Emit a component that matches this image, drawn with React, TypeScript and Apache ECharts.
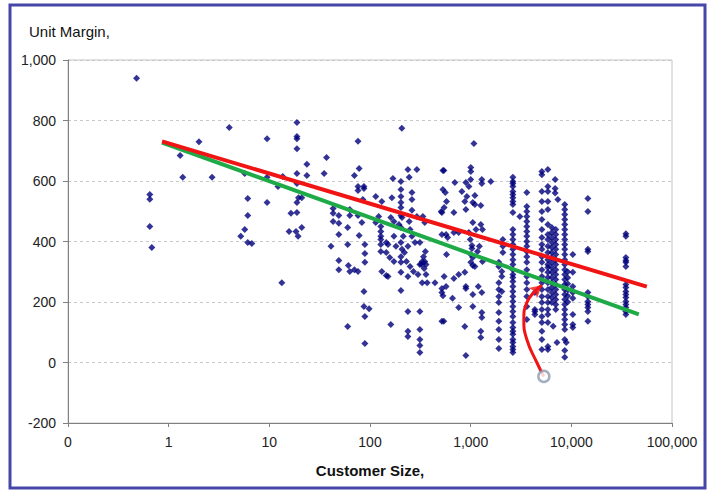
import React, { useEffect, useRef } from "react";
import * as echarts from "echarts";

// ---- axes ----
const xMin = 0.1;
const xMax = 100000;
const yMin = -200;
const yMax = 1000;
const yStep = 200;

// ---- scattered customers (customer size, unit margin) ----
const leftPoints: [number, number][] = [
  [0.48, 940], [0.65, 555], [0.65, 540], [0.65, 450], [0.68, 380],
  [1.3, 684], [1.38, 612], [2.0, 730], [2.7, 612], [4.0, 777],
  [5.2, 417], [5.7, 440], [6.1, 542], [6.1, 486], [6.1, 397], [6.7, 393], [5.7, 625],
  [9.5, 740], [9.5, 612], [9.5, 529], [12.2, 582], [13.6, 615], [13.3, 264],
  [15.7, 433], [16.4, 493], [18.4, 433], [18.8, 793], [18.8, 747], [18.8, 740], [18.8, 707],
  [18.8, 625], [18.8, 592], [18.8, 529], [18.8, 496], [19.3, 417], [19.5, 545], [21, 545], [21, 446],
  [23.6, 655], [23.6, 618], [37, 678], [35, 625],
  [43, 509], [43, 493], [49, 486], [43, 466], [49, 460], [49, 423], [41, 384], [49, 337], [49, 307],
];

const midPoints: [number, number][] = [
  [207, 774], [76, 731], [78, 641], [70, 618], [76, 582], [76, 569], [87, 582], [87, 575],
  [63, 506], [63, 486], [85, 539], [76, 486], [83, 463], [60, 446], [78, 420], [60, 390], [89, 390],
  [89, 360], [89, 331], [61, 321], [63, 301], [70, 307], [76, 301], [87, 235], [87, 185], [98, 178],
  [89, 152], [60, 119], [89, 63],
  [114, 549], [131, 532], [122, 483], [114, 463], [128, 450], [128, 433], [128, 417], [128, 407],
  [128, 390], [145, 397], [151, 390], [128, 367], [145, 364], [157, 347], [173, 334], [131, 301],
  [145, 288], [151, 284],
  [169, 608], [165, 545], [161, 479], [173, 466], [194, 456], [173, 417], [181, 384],
  [203, 598], [203, 572], [203, 549], [203, 529], [203, 512], [203, 486], [208, 479], [203, 446],
  [214, 417], [203, 397], [208, 374], [203, 350], [203, 331], [203, 298], [203, 238],
  [238, 638], [245, 612], [292, 638], [261, 562], [261, 539], [261, 503], [292, 483], [245, 466],
  [250, 440], [261, 417], [280, 397], [313, 397], [238, 384], [220, 364], [230, 334], [250, 317],
  [270, 301], [300, 291], [238, 284],
  [335, 483], [350, 463], [355, 367], [340, 350], [330, 334], [350, 334], [325, 324], [360, 324],
  [345, 311], [313, 324], [330, 264], [360, 291], [370, 264], [442, 264],
  [238, 169], [313, 169], [161, 126], [238, 103], [238, 86], [313, 109], [313, 76], [313, 56], [313, 33],
  [518, 136], [518, 231], [518, 245], [530, 635], [530, 572], [510, 499], [518, 496], [518, 423],
];

const thousandPoints: [number, number][] = [
  [542, 635], [697, 595], [896, 595], [960, 582], [1004, 645], [1004, 631], [1000, 605], [1291, 605],
  [1291, 592], [1585, 598], [818, 565], [917, 549], [875, 532], [560, 562], [575, 532], [545, 512],
  [1101, 552], [1050, 529], [1101, 522], [896, 506], [1262, 519], [681, 496], [1050, 463], [1262, 456],
  [1310, 440], [1130, 440], [570, 423], [590, 413], [681, 430], [760, 430], [960, 430], [990, 407],
  [1030, 387], [1030, 377], [1220, 384], [1170, 367], [575, 357], [1004, 357], [1050, 347], [1004, 331],
  [1050, 321], [1101, 317], [1310, 334], [1077, 724],
  [2090, 407], [2090, 384], [2090, 364], [1905, 331], [1905, 317], [2040, 301], [2040, 284], [2040, 235],
  [545, 284], [570, 251], [530, 221], [681, 278], [760, 291], [875, 298], [896, 251], [896, 245],
  [660, 212], [1050, 225], [1190, 251], [1290, 231], [1050, 185], [760, 182], [1290, 165], [1290, 149],
  [540, 136], [875, 119], [1262, 103], [1262, 83], [896, 23],
  [3080, 483], [4345, 231], [4345, 175], [4345, 159], [4345, 169],
  [7350, 539], [6600, 120], [7200, 66], [8900, 66], [6900, 605], [6900, 575], [6900, 560],
];

// ---- stacked columns of customers sharing a size ----
const col1905X = 1905;
const col1905Y = [264, 241, 218, 198, 165, 136, 109, 76, 46];
const col2625X = 2625;
const col2625Y = [
  612, 598, 592, 582, 565, 555, 545, 532, 522, 496, 440, 423, 407, 390, 374, 357, 340, 324, 307,
  291, 281, 268, 251, 235, 218, 202, 185, 169, 152, 132, 116, 103, 93, 76, 66, 53, 43, 33,
];
const col3614X = 3614;
const col3614Y = [562, 516, 499, 483, 466, 450, 433, 417, 400, 384, 367, 350, 331, 307, 284, 264, 241, 218, 185, 142];
const col5100X = 5100;
const col5100Y = [
  631, 621, 565, 532, 499, 473, 440, 413, 390, 374, 350, 331, 307, 284, 264, 241, 218, 198, 175,
  152, 132, 103, 76, 43,
];
const col5850X = 5850;
const col5850Y = [
  638, 582, 565, 532, 506, 456, 423, 407, 384, 364, 340, 324, 314, 298, 281, 264, 241, 218, 198,
  175, 159, 132, 53, 43,
];
const col6400X = 6400;
const col6400Y = [446, 430, 413, 397, 380, 364, 347, 331, 314, 298, 281, 264, 248, 231, 215, 198];
const col7000X = 7000;
const col7000Y = [440, 423, 407, 390, 374, 357, 340, 324, 307, 291, 274, 258, 241, 225, 208, 192, 175];
const col8600X = 8600;
const col8600Y = [
  522, 506, 489, 473, 456, 440, 423, 407, 390, 374, 357, 340, 324, 307, 291, 274, 258, 241, 225,
  208, 192, 175, 159, 142, 126, 109, 76, 40, 17,
];
const col9200X = 9200;
const col9200Y = [300, 280, 260, 240, 220, 200];
const col10350X = 10350;
const col10350Y = [357, 298, 251, 231, 212, 159, 126, 116];
const col14600X = 14600;
const col14600Y = [542, 499, 374, 367, 231, 218, 202, 192, 182, 169, 136];
const col34800X = 34800;
const col34800Y = [426, 417, 347, 337, 331, 317, 258, 248, 235, 225, 215, 202, 192, 182, 169, 159];

// ---- trend lines ----
const redTrend: [number, number][] = [[0.86, 731], [56200, 251]];
const greenTrend: [number, number][] = [[0.86, 727], [46800, 159]];

// ---- annotation arrow ----
const arrowPath: [number, number][] = [
  [5335, -46], [4540, 0], [3614, 76], [3373, 142], [3614, 198], [4345, 235], [5100, 255],
];
const arrowTip: [number, number] = [5100, 255];
const ringPoint: [number, number] = [5335, -46];

const FONT = "'Liberation Sans', Arial, Helvetica, sans-serif";

function column(x: number, ys: number[]): [number, number][] {
  return ys.map((y) => [x, y] as [number, number]);
}

export default function App() {
  const ref = useRef<HTMLDivElement>(null);

  useEffect(() => {
    if (!ref.current) return;
    const chart = echarts.init(ref.current, undefined, { renderer: "svg" });

    const scatterData: [number, number][] = [
      ...leftPoints,
      ...midPoints,
      ...thousandPoints,
      ...column(col1905X, col1905Y),
      ...column(col2625X, col2625Y),
      ...column(col3614X, col3614Y),
      ...column(col5100X, col5100Y),
      ...column(col5850X, col5850Y),
      ...column(col6400X, col6400Y),
      ...column(col7000X, col7000Y),
      ...column(col8600X, col8600Y),
      ...column(col9200X, col9200Y),
      ...column(col10350X, col10350Y),
      ...column(col14600X, col14600Y),
      ...column(col34800X, col34800Y),
    ];

    chart.setOption({
      animation: false,
      backgroundColor: "#ffffff",
      textStyle: { fontFamily: FONT },
      title: {
        text: "Unit Margin,",
        left: 29,
        top: 24,
        padding: 0,
        textStyle: { fontSize: 15, fontWeight: "normal", color: "#111", fontFamily: FONT },
      },
      graphic: [
        {
          type: "rect",
          shape: { x: 10, y: 5, width: 695, height: 483 },
          style: { fill: "none", stroke: "#4646a8", lineWidth: 3 },
          z: 100,
        },
      ],
      grid: {
        left: 68,
        right: 36,
        top: 60,
        bottom: 69,
        show: true,
        borderColor: "#c4c4c4",
        borderWidth: 1,
      },
      xAxis: {
        type: "log",
        logBase: 10,
        min: xMin,
        max: xMax,
        name: "Customer Size,",
        nameLocation: "middle",
        nameGap: 40,
        nameTextStyle: { fontSize: 15, fontWeight: "bold", color: "#111", fontFamily: FONT },
        axisLine: { onZero: false, lineStyle: { color: "#808080", width: 1 } },
        axisTick: { show: true, length: 4, lineStyle: { color: "#808080" } },
        axisLabel: {
          fontSize: 14,
          color: "#222",
          margin: 12,
          fontFamily: FONT,
          formatter: (v: number) => (v < 1 ? "0" : Math.round(v).toLocaleString("en-US")),
        },
        splitLine: { show: false },
        minorTick: { show: false },
      },
      yAxis: {
        type: "value",
        min: yMin,
        max: yMax,
        interval: yStep,
        axisLine: { show: true, lineStyle: { color: "#808080", width: 1 } },
        axisTick: { show: true, length: 5, lineStyle: { color: "#808080" } },
        axisLabel: {
          fontSize: 14,
          color: "#222",
          margin: 12,
          fontFamily: FONT,
          formatter: (v: number) => v.toLocaleString("en-US"),
        },
        splitLine: { show: true, lineStyle: { color: "#c8c8c8", type: [3, 3], width: 1 } },
      },
      series: [
        {
          type: "scatter",
          data: scatterData,
          symbol: "diamond",
          symbolSize: 7,
          itemStyle: { color: "#00007a" },
          z: 2,
        },
        {
          type: "line",
          data: greenTrend,
          symbol: "none",
          lineStyle: { color: "#1faa48", width: 4 },
          z: 3,
        },
        {
          type: "line",
          data: redTrend,
          symbol: "none",
          lineStyle: { color: "#f01414", width: 4 },
          z: 4,
        },
        {
          type: "line",
          data: arrowPath,
          smooth: 0.5,
          symbol: "none",
          lineStyle: { color: "#f01414", width: 3 },
          z: 5,
        },
        {
          type: "scatter",
          data: [arrowTip],
          symbol: "arrow",
          symbolSize: [10, 12],
          symbolRotate: -50,
          itemStyle: { color: "#f01414" },
          z: 6,
        },
        {
          type: "scatter",
          data: [ringPoint],
          symbol: "circle",
          symbolSize: 11,
          itemStyle: { color: "#ffffff", borderColor: "#8a9bb0", borderWidth: 2.5 },
          z: 6,
        },
      ],
    });

    return () => chart.dispose();
  }, []);

  return (
    <div
      ref={ref}
      style={{ position: "fixed", left: 0, top: 0, width: 708, height: 492, background: "#fff" }}
    />
  );
}
